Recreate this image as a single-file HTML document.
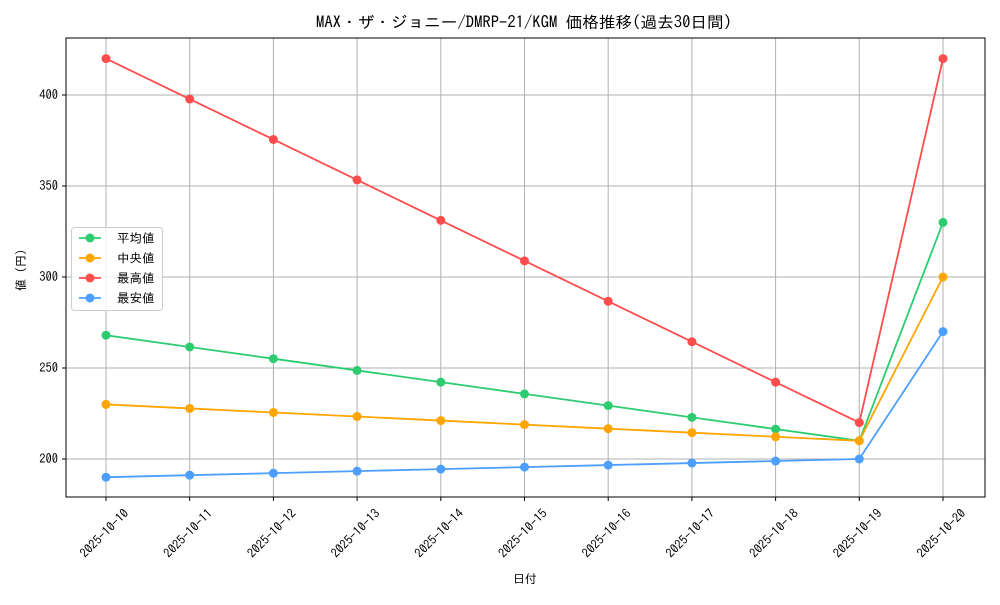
<!DOCTYPE html>
<html><head><meta charset="utf-8"><style>
body{margin:0;background:#fff}
text{font-family:"IPAGothic","Noto Sans CJK JP",monospace;fill:#000}
</style></head><body>
<svg id="s" width="1000" height="600" xmlns="http://www.w3.org/2000/svg">
<rect width="1000" height="600" fill="#fff"/>
<g id="grid"></g>
<g id="series"></g>
<rect x="66" y="38" width="919" height="459" fill="none" stroke="#000" stroke-width="1"/>
<text x="316" y="28" font-size="16" textLength="416" lengthAdjust="spacingAndGlyphs">MAX・ザ・ジョニー/DMRP-21/KGM 価格推移(過去30日間)</text>
<text x="525" y="583" text-anchor="middle" font-size="12">日付</text>
<text transform="translate(25,270) rotate(-90)" text-anchor="middle" font-size="12">値 (円)</text>
<g id="legend">
<rect x="71.5" y="227.5" width="91" height="83" rx="3" fill="#fff" fill-opacity="0.8" stroke="#ccc"/>
</g>
</svg>
<script>
var ns="http://www.w3.org/2000/svg";
function el(p,t,a,txt){var e=document.createElementNS(ns,t);for(var k in a)e.setAttribute(k,a[k]);if(txt)e.textContent=txt;document.querySelector(p).appendChild(e);return e;}
function X(i){return 106+i*83.7}
function Y(v){return 459-(v-200)*1.82}
for(var i=0;i<11;i++){var x=X(i);
el('#grid','line',{x1:x,x2:x,y1:38,y2:497,stroke:'#b0b0b0','stroke-width':1});
el('#grid','line',{x1:x,x2:x,y1:497,y2:501,stroke:'#000'});
el('#grid','text',{transform:'translate('+(x-1)+',534) rotate(-45)','text-anchor':'middle','font-size':'12.5','dominant-baseline':'middle'},'2025-10-'+(10+i));}
for(var v=200;v<=400;v+=50){var y=Y(v);
el('#grid','line',{x1:66,x2:985,y1:y,y2:y,stroke:'#b0b0b0','stroke-width':1});
el('#grid','line',{x1:62,x2:66,y1:y,y2:y,stroke:'#000'});
el('#grid','text',{x:58,y:y+4,'text-anchor':'end','font-size':'12.5'},''+v);}
function lin(a,b,last){var r=[];for(var i=0;i<10;i++)r.push(a+(b-a)*i/9);r.push(last);return r;}
var S=[['平均値','#2ecc71',lin(268,210,330)],['中央値','#ffa500',lin(230,210,300)],['最高値','#ff4d4d',lin(420,220,420)],['最安値','#4d9fff',lin(190,200,270)]];
S.forEach(function(s,k){var pts=s[2].map(function(v,i){return X(i)+','+Y(v)}).join(' ');
el('#series','polyline',{points:pts,fill:'none',stroke:s[1],'stroke-width':1.8});
s[2].forEach(function(v,i){el('#series','circle',{cx:X(i),cy:Y(v),r:4.5,fill:s[1]})});
var ly=238+k*20;
el('#legend','line',{x1:79,x2:101,y1:ly,y2:ly,stroke:s[1],'stroke-width':1.8});
el('#legend','circle',{cx:90,cy:ly,r:4.5,fill:s[1]});
el('#legend','text',{x:117,y:ly+4.5,'font-size':'12.5'},s[0]);});
</script>
</body></html>
